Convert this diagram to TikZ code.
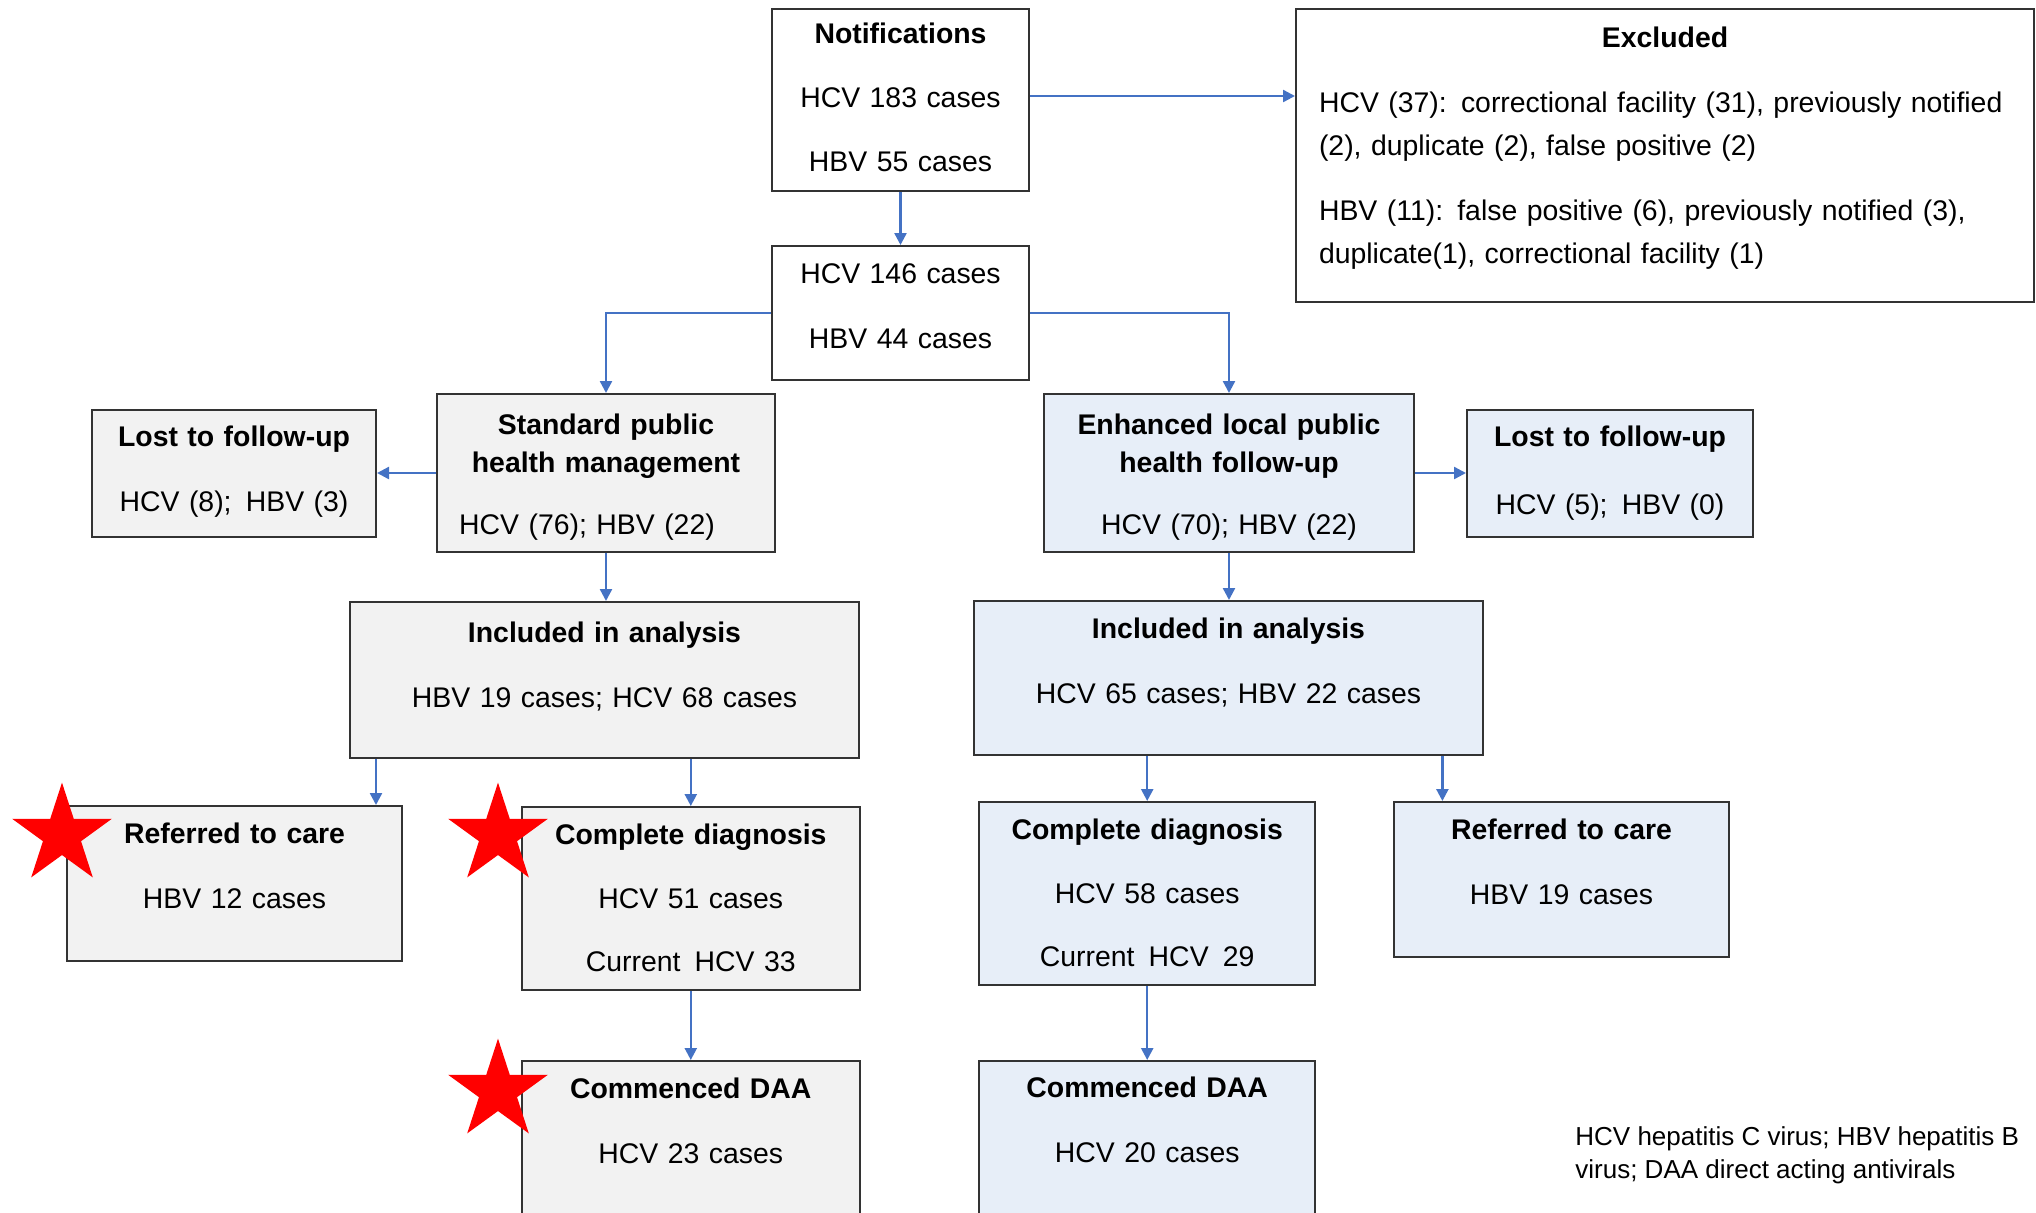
\documentclass[tikz,border=0pt]{standalone}
\usepackage{fontspec}
\setmainfont{Liberation Sans}
\usepackage{tikz}
\usetikzlibrary{arrows.meta,shapes.geometric}

\definecolor{boxline}{HTML}{333333}
\definecolor{greyfill}{HTML}{F2F2F2}
\definecolor{bluefill}{HTML}{E7EEF8}
\definecolor{flowblue}{HTML}{4472C4}

\begin{document}
\begin{tikzpicture}[x=0.5pt,y=-0.5pt,
		box/.style={draw=boxline, line width=1pt, inner xsep=0pt, inner ysep=0pt, anchor=north west, align=center, font=\fontsize{14.2}{19}\selectfont},
		whitebox/.style={box, fill=white},
		greybox/.style={box, fill=greyfill},
		bluebox/.style={box, fill=bluefill},
		flowarrow/.style={draw=flowblue, line width=1.2pt, -{Triangle[length=6pt,width=6pt]}},
		redstar/.style={star, star points=5, star point ratio=2.618, fill=red, draw=none, minimum size=52.4pt, inner sep=0pt}]
		\useasboundingbox (0,0) rectangle (2036,1212);
		\clip (0,0) rectangle (2036,1212);
		
		% top of the chart
		\node[whitebox, text width=128.5pt, text height=17.25pt, text depth=73.75pt] (notif) at (771,8)
		{\textbf{Notifications}\\[13pt] HCV 183 cases\\[13pt] HBV 55 cases};
		\node[whitebox, align=left, text width=346pt, inner xsep=11.5pt, text height=19.2pt, text depth=127.3pt] (excl) at (1295,8)
		{\makebox[\linewidth]{\textbf{Excluded}}\\[13.5pt]
			HCV (37): correctional facility (31), previously notified\\[2.5pt]
			(2), duplicate (2), false positive (2)\\[13.5pt]
			HBV (11): false positive (6), previously notified (3),\\[2.5pt]
			duplicate(1), correctional facility (1)};
		\node[whitebox, text width=128.5pt, text height=18.85pt, text depth=48.15pt] (mid) at (771,245)
		{HCV 146 cases\\[13.5pt] HBV 44 cases};
		
		% standard arm (left)
		\node[greybox, text width=169pt, text height=20.15pt, text depth=58.85pt] (std) at (436,393)
		{\textbf{Standard public}\\ \textbf{health management}\\[12.2pt] \hspace*{-19pt}HCV (76); HBV (22)};
		\node[greybox, text width=142pt, text height=18pt, text depth=45.5pt] (lostL) at (91,409)
		{\textbf{Lost to follow-up}\\[13.5pt] HCV (8);\, HBV (3)};
		\node[greybox, text width=254.5pt, text height=20pt, text depth=58pt] (inclL) at (349,601)
		{\textbf{Included in analysis}\\[13.5pt] HBV 19 cases; HCV 68 cases};
		\node[greybox, text width=167.5pt, text height=18.65pt, text depth=58.65pt] (refL) at (66,805)
		{\textbf{Referred to care}\\[13.5pt] HBV 12 cases};
		\node[greybox, text width=168.8pt, text height=18.6pt, text depth=73pt] (cdL) at (521,806)
		{\textbf{Complete diagnosis}\\[13pt] HCV 51 cases\\[12.5pt] Current\, HCV 33};
		\node[greybox, text width=168.8pt, text height=18.6pt, text depth=66.6pt] (daaL) at (521,1060)
		{\textbf{Commenced DAA}\\[13.5pt] HCV 23 cases};
		
		% enhanced arm (right)
		\node[bluebox, text width=185pt, text height=20.15pt, text depth=58.85pt] (enh) at (1043,393)
		{\textbf{Enhanced local public}\\ \textbf{health follow-up}\\[12.2pt] HCV (70); HBV (22)};
		\node[bluebox, text width=143pt, text height=18pt, text depth=45.5pt] (lostR) at (1466,409)
		{\textbf{Lost to follow-up}\\[15pt] HCV (5);\, HBV (0)};
		\node[bluebox, text width=254.5pt, text height=18.5pt, text depth=58.7pt] (inclR) at (973,600)
		{\textbf{Included in analysis}\\[13.5pt] HCV 65 cases; HBV 22 cases};
		\node[bluebox, text width=168.2pt, text height=18.6pt, text depth=73pt] (cdR) at (978,801)
		{\textbf{Complete diagnosis}\\[13pt] HCV 58 cases\\[12.5pt] Current\, HCV\, 29};
		\node[bluebox, text width=167.5pt, text height=18.6pt, text depth=58.65pt] (refR) at (1393,801)
		{\textbf{Referred to care}\\[13.5pt] HBV 19 cases};
		\node[bluebox, text width=168.2pt, text height=18pt, text depth=67pt] (daaR) at (978,1060)
		{\textbf{Commenced DAA}\\[13.5pt] HCV 20 cases};
		
		\node[anchor=base west, align=left, inner sep=0pt, font=\fontsize{13}{16.3}\selectfont] (note) at (1575,1178)
		{HCV hepatitis C virus; HBV hepatitis B\\virus; DAA direct acting antivirals};
		
		% connectors
		\draw[flowarrow] ([yshift=2pt]notif.east) -- ([yshift=2pt]notif.east -| excl.west);
		\draw[flowarrow] (notif.south) -- (mid.north);
		\draw[flowarrow] (mid.west) -| (std.north);
		\draw[flowarrow] (mid.east) -| (enh.north);
		\draw[flowarrow] (std.west) -- (std.west -| lostL.east);
		\draw[flowarrow] (enh.east) -- (enh.east -| lostR.west);
		\draw[flowarrow] (std.south) -- (std.south |- inclL.north);
		\draw[flowarrow] (enh.south) -- (enh.south |- inclR.north);
		\coordinate (refLin) at ([xshift=-13.5pt]refL.north east);
		\coordinate (refRin) at ([xshift=24.7pt]refR.north west);
		\draw[flowarrow] (inclL.south -| refLin) -- (refLin);
		\draw[flowarrow] (inclL.south -| cdL.north) -- (cdL.north);
		\draw[flowarrow] (inclR.south -| cdR.north) -- (cdR.north);
		\draw[flowarrow] (inclR.south -| refRin) -- (refRin);
		\draw[flowarrow] (cdL.south) -- (daaL.north);
		\draw[flowarrow] (cdR.south) -- (daaR.north);
		
		% stars on top
		\node[redstar] (star1) at (62,835) {};
		\node[redstar] (star2) at (498,835) {};
		\node[redstar] (star3) at (498,1091) {};
\end{tikzpicture}
\end{document}
